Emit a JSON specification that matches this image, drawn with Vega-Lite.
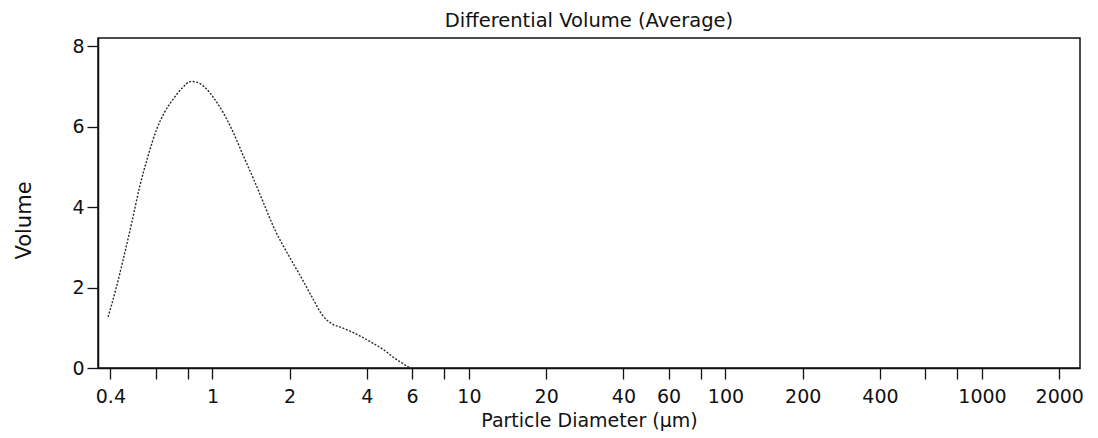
{
  "$schema": "https://vega.github.io/schema/vega-lite/v6.json",
  "autosize": {"type": "none"},
  "padding": {"left": 98, "top": 38, "right": 18, "bottom": 70},
  "width": 982,
  "height": 330,
  "background": "white",
  "title": {
    "text": "Differential Volume (Average)",
    "font": "DejaVu Sans",
    "fontSize": 19.5,
    "fontWeight": "normal",
    "color": "#111",
    "anchor": "middle",
    "offset": 6
  },
  "config": {
    "view": {"stroke": "#111", "strokeWidth": 1.5},
    "axis": {
      "labelFont": "DejaVu Sans",
      "titleFont": "DejaVu Sans",
      "labelFontSize": 19,
      "titleFontSize": 19,
      "titleFontWeight": "normal",
      "labelColor": "#111",
      "titleColor": "#111",
      "domainColor": "#111",
      "domainWidth": 1.5,
      "tickColor": "#111",
      "tickWidth": 1.3,
      "tickSize": 11,
      "grid": false
    }
  },
  "data": {
    "values": [
      {"diameter": 0.392, "volume": 1.27},
      {"diameter": 0.42, "volume": 1.95},
      {"diameter": 0.449, "volume": 2.7},
      {"diameter": 0.485, "volume": 3.62},
      {"diameter": 0.521, "volume": 4.52},
      {"diameter": 0.56, "volume": 5.25},
      {"diameter": 0.606, "volume": 5.93},
      {"diameter": 0.65, "volume": 6.35},
      {"diameter": 0.703, "volume": 6.68},
      {"diameter": 0.76, "volume": 6.95},
      {"diameter": 0.826, "volume": 7.12},
      {"diameter": 0.88, "volume": 7.09},
      {"diameter": 0.949, "volume": 6.93},
      {"diameter": 1.02, "volume": 6.68},
      {"diameter": 1.1, "volume": 6.35},
      {"diameter": 1.2, "volume": 5.88},
      {"diameter": 1.32, "volume": 5.27},
      {"diameter": 1.45, "volume": 4.68},
      {"diameter": 1.58, "volume": 4.11},
      {"diameter": 1.75, "volume": 3.44},
      {"diameter": 1.89, "volume": 3.03},
      {"diameter": 2.0, "volume": 2.75},
      {"diameter": 2.26, "volume": 2.16},
      {"diameter": 2.45, "volume": 1.75},
      {"diameter": 2.7, "volume": 1.29},
      {"diameter": 2.96, "volume": 1.08},
      {"diameter": 3.14, "volume": 1.02},
      {"diameter": 3.54, "volume": 0.88},
      {"diameter": 4.11, "volume": 0.66},
      {"diameter": 4.63, "volume": 0.46},
      {"diameter": 5.2, "volume": 0.22},
      {"diameter": 5.72, "volume": 0.05},
      {"diameter": 5.9, "volume": 0.0}
    ]
  },
  "mark": {
    "type": "line",
    "interpolate": "monotone",
    "color": "#2a2a2a",
    "strokeWidth": 1.4,
    "strokeDash": [2, 1.6]
  },
  "encoding": {
    "x": {
      "field": "diameter",
      "type": "quantitative",
      "title": "Particle Diameter (µm)",
      "scale": {"type": "log", "domain": [0.358, 2410], "nice": false},
      "axis": {
        "values": [0.4, 0.6, 0.8, 1, 2, 4, 6, 8, 10, 20, 40, 60, 80, 100, 200, 400, 600, 800, 1000, 2000],
        "labelExpr": "indexof([0.6, 0.8, 8, 80, 600, 800], datum.value) >= 0 ? '' : datum.value",
        "labelPadding": 8,
        "titlePadding": 5,
        "labelFlush": false,
        "labelOverlap": false
      }
    },
    "y": {
      "field": "volume",
      "type": "quantitative",
      "title": "Volume",
      "scale": {"domain": [0, 8.2], "nice": false},
      "axis": {
        "values": [0, 2, 4, 6, 8],
        "labelPadding": 3,
        "titlePadding": 37,
        "titleFontSize": 21,
        "titleY": 182
      }
    }
  }
}
